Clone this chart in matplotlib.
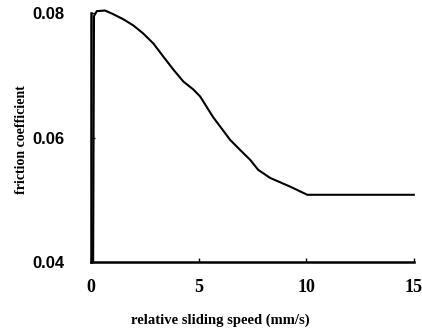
import matplotlib
matplotlib.use("Agg")
import matplotlib.pyplot as plt

plt.rcParams['font.family'] = ['Liberation Serif', 'DejaVu Serif']
plt.rcParams['font.weight'] = "bold"

# friction curve
speed = [0.10, 0.14, 0.27, 0.65, 1.04, 1.50, 1.97, 2.43, 2.90, 3.36, 3.83,
         4.29, 4.76, 5.07, 5.67, 6.47, 6.93, 7.40, 7.77, 8.33, 9.26, 10.05,
         12.0, 15.0]
friction = [0.0400, 0.0795, 0.0803, 0.0804, 0.0798, 0.0790, 0.0780, 0.0767,
            0.0751, 0.0730, 0.0709, 0.0690, 0.0677, 0.0666, 0.0633, 0.0596,
            0.0580, 0.0564, 0.0548, 0.0535, 0.0521, 0.0508, 0.0508, 0.0508]

x_ticks = [0, 5, 10, 15]
y_ticks = [0.04, 0.06, 0.08]
y_tick_labels = ["0.04", "0.06", "0.08"]

fig = plt.figure(figsize=(4.22, 3.30), dpi=100)
ax = fig.add_axes([0.2156, 0.206, 0.765, 0.7546])

ax.plot(speed, friction, color="black", linewidth=1.5, clip_on=False)

ax.set_xlim(0, 15)
ax.set_ylim(0.04, 0.08)

ax.spines['top'].set_visible(False)
ax.spines['right'].set_visible(False)
ax.spines['left'].set_linewidth(1.8)
ax.spines['bottom'].set_linewidth(1.8)

ax.set_xticks(x_ticks)
ax.set_yticks(y_ticks)
ax.set_yticklabels(y_tick_labels, family=['Liberation Sans', 'DejaVu Sans'],
                   fontsize=12, fontweight="bold")
ax.set_xticklabels([str(t) for t in x_ticks], fontsize=13, fontweight="bold")
ax.tick_params(axis="x", direction="in", length=3, width=1, pad=12)
ax.tick_params(axis="y", direction="in", length=3, width=1, pad=19)

ax.set_xlabel("relative sliding speed (mm/s)", fontsize=10.5, fontweight="bold")
ax.set_ylabel("friction coefficient", fontsize=10, fontweight="bold")
ax.xaxis.set_label_coords(0.40, -0.205)
ax.yaxis.set_label_coords(-0.195, 0.49)

fig.savefig("out.png", dpi=100)
